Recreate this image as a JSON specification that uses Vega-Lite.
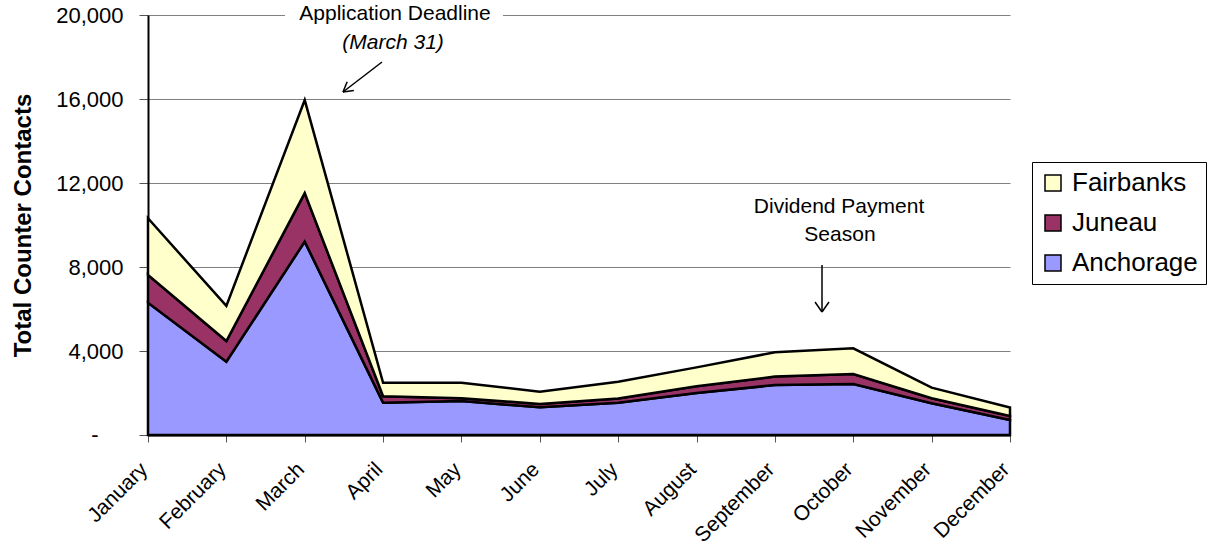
{
  "$schema": "https://vega.github.io/schema/vega-lite/v6.json",
  "width": 862,
  "height": 420,
  "autosize": {"type": "none"},
  "padding": {"left": 148, "top": 15, "right": 197, "bottom": 117},
  "background": "white",
  "config": {"view": {"stroke": null}, "font": "Liberation Sans"},
  "resolve": {"scale": {"x": "independent", "y": "independent"}, "axis": {"x": "independent", "y": "independent"}},
  "layer": [
    {
      "data": {"values": [
        {"month": "January", "city": "Anchorage", "rank": 1, "contacts": 6300},
        {"month": "January", "city": "Juneau", "rank": 2, "contacts": 1320},
        {"month": "January", "city": "Fairbanks", "rank": 3, "contacts": 2700},
        {"month": "February", "city": "Anchorage", "rank": 1, "contacts": 3490},
        {"month": "February", "city": "Juneau", "rank": 2, "contacts": 985},
        {"month": "February", "city": "Fairbanks", "rank": 3, "contacts": 1670},
        {"month": "March", "city": "Anchorage", "rank": 1, "contacts": 9210},
        {"month": "March", "city": "Juneau", "rank": 2, "contacts": 2310},
        {"month": "March", "city": "Fairbanks", "rank": 3, "contacts": 4430},
        {"month": "April", "city": "Anchorage", "rank": 1, "contacts": 1540},
        {"month": "April", "city": "Juneau", "rank": 2, "contacts": 310},
        {"month": "April", "city": "Fairbanks", "rank": 3, "contacts": 640},
        {"month": "May", "city": "Anchorage", "rank": 1, "contacts": 1620},
        {"month": "May", "city": "Juneau", "rank": 2, "contacts": 130},
        {"month": "May", "city": "Fairbanks", "rank": 3, "contacts": 740},
        {"month": "June", "city": "Anchorage", "rank": 1, "contacts": 1320},
        {"month": "June", "city": "Juneau", "rank": 2, "contacts": 160},
        {"month": "June", "city": "Fairbanks", "rank": 3, "contacts": 585},
        {"month": "July", "city": "Anchorage", "rank": 1, "contacts": 1540},
        {"month": "July", "city": "Juneau", "rank": 2, "contacts": 200},
        {"month": "July", "city": "Fairbanks", "rank": 3, "contacts": 800},
        {"month": "August", "city": "Anchorage", "rank": 1, "contacts": 2000},
        {"month": "August", "city": "Juneau", "rank": 2, "contacts": 320},
        {"month": "August", "city": "Fairbanks", "rank": 3, "contacts": 900},
        {"month": "September", "city": "Anchorage", "rank": 1, "contacts": 2380},
        {"month": "September", "city": "Juneau", "rank": 2, "contacts": 400},
        {"month": "September", "city": "Fairbanks", "rank": 3, "contacts": 1160},
        {"month": "October", "city": "Anchorage", "rank": 1, "contacts": 2430},
        {"month": "October", "city": "Juneau", "rank": 2, "contacts": 475},
        {"month": "October", "city": "Fairbanks", "rank": 3, "contacts": 1225},
        {"month": "November", "city": "Anchorage", "rank": 1, "contacts": 1510},
        {"month": "November", "city": "Juneau", "rank": 2, "contacts": 240},
        {"month": "November", "city": "Fairbanks", "rank": 3, "contacts": 505},
        {"month": "December", "city": "Anchorage", "rank": 1, "contacts": 715},
        {"month": "December", "city": "Juneau", "rank": 2, "contacts": 190},
        {"month": "December", "city": "Fairbanks", "rank": 3, "contacts": 400}
      ]},
      "mark": {"type": "area", "stroke": "black", "strokeWidth": 2.5, "opacity": 1, "strokeJoin": "miter"},
      "encoding": {
        "x": {
          "field": "month", "type": "ordinal",
          "sort": ["January","February","March","April","May","June","July","August","September","October","November","December"],
          "scale": {"type": "point", "padding": 0},
          "axis": {"title": null, "labelAngle": -45, "labelAlign": "right", "labelBaseline": "middle", "labelFontSize": 21, "labelColor": "black", "tickSize": 7, "tickColor": "#555555", "domainColor": "black", "domainWidth": 2, "grid": false, "labelPadding": 24, "labelOffset": -4}
        },
        "y": {
          "field": "contacts", "type": "quantitative", "stack": "zero",
          "scale": {"domain": [0, 20000], "nice": false},
          "axis": {
            "values": [0, 4000, 8000, 12000, 16000, 20000],
            "labelExpr": "datum.value == 0 ? '' : format(datum.value, ',')",
            "title": "Total Counter Contacts", "titleFontSize": 24, "titleFontWeight": "bold", "titleColor": "black", "titlePadding": 20,
            "labelFontSize": 22, "labelColor": "black", "tickSize": 9, "tickColor": "#555555", "labelPadding": 16,
            "domainColor": "black", "domainWidth": 2, "grid": true, "gridColor": "#808080", "gridWidth": 1
          }
        },
        "order": {"field": "rank", "type": "quantitative", "sort": "ascending"},
        "color": {
          "field": "city", "type": "nominal",
          "scale": {"domain": ["Fairbanks", "Juneau", "Anchorage"], "range": ["#FFFFCC", "#993366", "#9999FF"]},
          "legend": {
            "title": null, "orient": "none", "legendX": 884, "legendY": 147,
            "symbolType": "square", "symbolSize": 256, "symbolStrokeColor": "black", "symbolStrokeWidth": 1.5, "symbolOpacity": 1,
            "labelFontSize": 26, "labelColor": "black", "labelOffset": 6,
            "strokeColor": "black", "fillColor": "white", "padding": 8, "rowPadding": 14
          }
        }
      }
    },
    {
      "layer": [
        {
          "data": {"values": [{"x": 1.748, "x2": 4.53, "y": 19800, "y2": 20200}]},
          "mark": {"type": "rect", "fill": "white"},
          "encoding": {
            "x": {"field": "x", "type": "quantitative", "scale": {"domain": [0, 11], "nice": false, "zero": false}, "axis": null},
            "x2": {"field": "x2"},
            "y": {"field": "y", "type": "quantitative", "scale": {"domain": [0, 20000], "nice": false}, "axis": null},
            "y2": {"field": "y2"}
          }
        },
        {
          "data": {"values": [
            {"x": 2.986, "y": 17762, "x2": 2.488, "y2": 16333},
            {"x": 2.488, "y": 16333, "x2": 2.627, "y2": 16405},
            {"x": 2.488, "y": 16333, "x2": 2.542, "y2": 16819},
            {"x": 8.601, "y": 8095, "x2": 8.601, "y2": 5857},
            {"x": 8.601, "y": 5857, "x2": 8.512, "y2": 6333},
            {"x": 8.601, "y": 5857, "x2": 8.690, "y2": 6333}
          ]},
          "mark": {"type": "rule", "color": "black", "strokeWidth": 1.5},
          "encoding": {
            "x": {"field": "x", "type": "quantitative", "scale": {"domain": [0, 11], "nice": false, "zero": false}, "axis": null},
            "x2": {"field": "x2"},
            "y": {"field": "y", "type": "quantitative", "scale": {"domain": [0, 20000], "nice": false}, "axis": null},
            "y2": {"field": "y2"}
          }
        },
        {
          "data": {"values": [
            {"x": 3.152, "y": 20048, "label": "Application Deadline"},
            {"x": 8.818, "y": 10857, "label": "Dividend Payment"},
            {"x": 8.83, "y": 9524, "label": "Season"}
          ]},
          "mark": {"type": "text", "fontSize": 21, "color": "black", "align": "center", "baseline": "middle"},
          "encoding": {
            "x": {"field": "x", "type": "quantitative", "scale": {"domain": [0, 11], "nice": false, "zero": false}, "axis": null},
            "y": {"field": "y", "type": "quantitative", "scale": {"domain": [0, 20000], "nice": false}, "axis": null},
            "text": {"field": "label"}
          }
        },
        {
          "data": {"values": [
            {"x": -0.676, "y": 0, "label": "-"}
          ]},
          "mark": {"type": "text", "fontSize": 22, "color": "black", "align": "center", "baseline": "middle"},
          "encoding": {
            "x": {"field": "x", "type": "quantitative", "scale": {"domain": [0, 11], "nice": false, "zero": false}, "axis": null},
            "y": {"field": "y", "type": "quantitative", "scale": {"domain": [0, 20000], "nice": false}, "axis": null},
            "text": {"field": "label"}
          }
        },
        {
          "data": {"values": [
            {"x": 3.127, "y": 18667, "label": "(March 31)"}
          ]},
          "mark": {"type": "text", "fontSize": 21, "fontStyle": "italic", "color": "black", "align": "center", "baseline": "middle"},
          "encoding": {
            "x": {"field": "x", "type": "quantitative", "scale": {"domain": [0, 11], "nice": false, "zero": false}, "axis": null},
            "y": {"field": "y", "type": "quantitative", "scale": {"domain": [0, 20000], "nice": false}, "axis": null},
            "text": {"field": "label"}
          }
        }
      ]
    }
  ]
}
